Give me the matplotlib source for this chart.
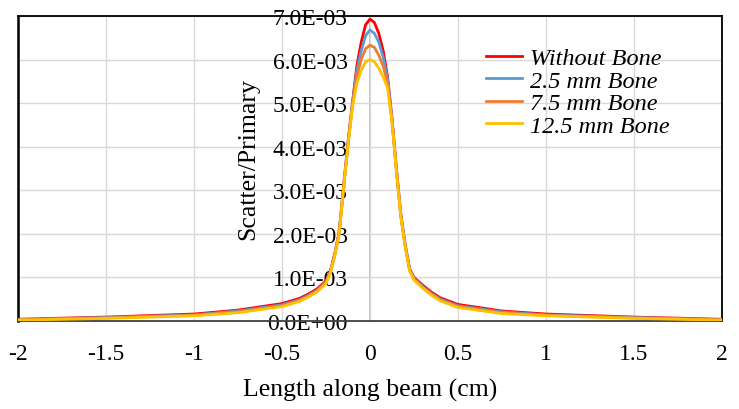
import matplotlib.pyplot as plt

# === DATA (values in units of 1E-3) ===
x_cm = [-2, -1.5, -1, -0.75, -0.5, -0.4, -0.35, -0.3, -0.25, -0.225, -0.2, -0.175,
        -0.15, -0.125, -0.1, -0.075, -0.05, -0.025, 0, 0.025, 0.05, 0.075, 0.1,
        0.125, 0.15, 0.175, 0.2, 0.225, 0.25, 0.3, 0.35, 0.4, 0.5, 0.75, 1, 1.5, 2]

without_bone = [0.04, 0.09, 0.16, 0.25, 0.40, 0.52, 0.62, 0.74, 0.92, 1.15, 1.55, 2.05,
                3.10, 4.10, 5.00, 5.85, 6.40, 6.80, 6.93, 6.85, 6.60, 6.20, 5.60,
                4.65, 3.50, 2.45, 1.75, 1.20, 1.00, 0.82, 0.66, 0.53, 0.38, 0.23, 0.16, 0.09, 0.04]
bone_2_5 = [0.03, 0.08, 0.14, 0.23, 0.37, 0.49, 0.59, 0.71, 0.90, 1.13, 1.53, 2.03,
            3.08, 4.08, 4.98, 5.75, 6.20, 6.55, 6.68, 6.60, 6.40, 6.05, 5.55,
            4.62, 3.48, 2.43, 1.73, 1.18, 0.98, 0.79, 0.63, 0.50, 0.35, 0.21, 0.14, 0.08, 0.03]
bone_7_5 = [0.03, 0.07, 0.13, 0.21, 0.35, 0.47, 0.57, 0.69, 0.88, 1.12, 1.52, 2.02,
            3.06, 4.05, 4.95, 5.60, 6.00, 6.25, 6.33, 6.28, 6.10, 5.85, 5.45,
            4.60, 3.46, 2.41, 1.72, 1.17, 0.96, 0.77, 0.61, 0.48, 0.33, 0.19, 0.13, 0.07, 0.03]
bone_12_5 = [0.02, 0.06, 0.12, 0.19, 0.33, 0.45, 0.55, 0.67, 0.86, 1.10, 1.50, 2.00,
             3.04, 4.02, 4.90, 5.45, 5.75, 5.95, 6.00, 5.95, 5.80, 5.60, 5.35,
             4.57, 3.44, 2.39, 1.70, 1.15, 0.94, 0.75, 0.59, 0.46, 0.31, 0.17, 0.12, 0.06, 0.02]

x_ticks = [-2, -1.5, -1, -0.5, 0, 0.5, 1, 1.5, 2]
x_tick_labels = ["-2", "-1.5", "-1", "-0.5", "0", "0.5", "1", "1.5", "2"]
y_ticks = [0, 1, 2, 3, 4, 5, 6, 7]
y_tick_labels = ["0.0E+00", "1.0E-03", "2.0E-03", "3.0E-03", "4.0E-03",
                 "5.0E-03", "6.0E-03", "7.0E-03"]

series = [
    ("Without Bone", without_bone, "#FF0000"),
    ("2.5 mm Bone", bone_2_5, "#5B9BD5"),
    ("7.5 mm Bone", bone_7_5, "#ED7D31"),
    ("12.5 mm Bone", bone_12_5, "#FFC000"),
]

plt.rcParams["font.family"] = ["Liberation Serif", "DejaVu Serif"]

fig = plt.figure(figsize=(7.39, 4.10), dpi=100)
ax = fig.add_axes([18 / 739, 1 - 322 / 410, 704 / 739, 305 / 410])

for name, vals, col in series:
    ax.plot(x_cm, [v * 1e-3 for v in vals], color=col, lw=2.0, label=name,
            solid_joinstyle="round", zorder=3)

ax.set_xlim(-2, 2)
ax.set_ylim(0, 7e-3)
ax.set_xticks(x_ticks)
ax.set_xticklabels(x_tick_labels)
ax.set_yticks([t * 1e-3 for t in y_ticks])
ax.set_yticklabels(y_tick_labels)

ax.grid(True, color="#d9d9d9", lw=1.0, zorder=0)
ax.tick_params(axis="both", length=0, labelsize=17)
ax.tick_params(axis="x", pad=16)
ax.tick_params(axis="y", pad=16)

# y axis crosses at x=0, frame at the plot edges
ax.spines["left"].set_position(("data", 0))
ax.spines["left"].set_color("#bfbfbf")
ax.spines["left"].set_zorder(1)
ax.spines["top"].set_color("black")
ax.spines["right"].set_color("black")
ax.spines["bottom"].set_color("#404040")
for s in ax.spines.values():
    s.set_linewidth(1.3)
ax.axvline(-2, color="black", lw=1.8, clip_on=False)

ax.set_xlabel("Length along beam (cm)", fontsize=18.5, labelpad=10)
ax.set_ylabel("Scatter/Primary", fontsize=18.5)
ax.yaxis.set_label_coords((259 - 18) / 704, 0.535)

leg = ax.legend(loc="upper left", bbox_to_anchor=((486 - 18) / 704, (322 - 48) / 305),
                frameon=False, prop={"style": "italic", "size": 17.5},
                handlelength=1.5, handletextpad=0.3, labelspacing=0.02,
                borderaxespad=0, borderpad=0)

fig.savefig("out.png", dpi=100)
